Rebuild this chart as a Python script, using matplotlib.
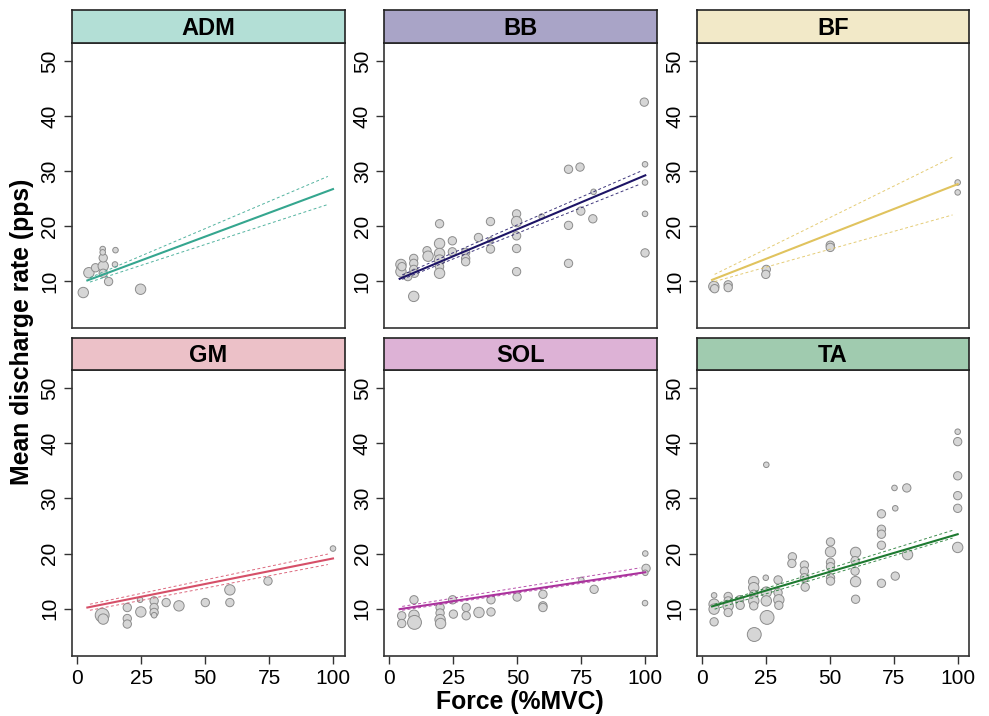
import matplotlib
matplotlib.use("Agg")
import matplotlib.pyplot as plt

plt.rcParams['font.family'] = ['Liberation Sans', 'DejaVu Sans']

# ---- data ----
muscles = ["ADM", "BB", "BF", "GM", "SOL", "TA"]

adm_force = [2.4, 4.6, 7.2, 10.2, 10.2, 10.2, 10, 10, 15, 14.8, 12.3, 24.8]
adm_rate = [7.9, 11.5, 12.4, 12.7, 11.4, 14.2, 15.8, 15.2, 15.6, 13.0, 9.9, 8.5]
adm_n = [3, 3, 2, 3, 2, 2, 1, 1, 1, 1, 2, 3]

bb_force = [4.5, 4.5, 4.9, 7.2, 9.5, 9.5, 9.5, 9.5, 9.8, 14.7, 15.1, 19.6, 19.6, 19.6,
            19.6, 19.6, 19.6, 24.6, 24.6, 29.8, 29.8, 29.8, 34.8, 39.5, 39.5, 39.5,
            49.7, 49.7, 49.7, 49.7, 49.7, 59.5, 70, 70, 70, 74.5, 74.8, 79.8, 79.5,
            99.6, 99.9, 99.9, 99.9, 99.9]
bb_rate = [13.0, 11.7, 12.6, 10.8, 7.2, 14.1, 13.2, 12.1, 11.4, 15.5, 14.5, 20.4, 16.8, 15.0,
           13.8, 12.6, 11.4, 17.3, 15.3, 15.2, 14.1, 13.5, 17.9, 20.8, 15.8, 17.4,
           22.2, 20.8, 18.2, 15.9, 11.7, 21.7, 30.3, 20.1, 13.2, 30.7, 22.7, 26.2, 21.3,
           42.5, 31.2, 27.9, 22.2, 15.1]
bb_n = [3, 3, 2, 2, 3, 2, 2, 2, 2, 2, 3, 2, 3, 3,
        3, 2, 3, 2, 2, 2, 2, 2, 2, 2, 2, 1,
        2, 3, 2, 2, 2, 1, 2, 2, 2, 2, 2, 1, 2,
        2, 1, 1, 1, 2]

bf_force = [4.7, 5.0, 10.3, 10.3, 25.2, 25.0, 50.2, 50.2, 100, 100]
bf_rate = [9.0, 8.6, 9.3, 8.8, 12.1, 11.2, 16.5, 16.1, 27.9, 26.1]
bf_n = [3, 2, 2, 2, 2, 2, 2, 2, 1, 1]

gm_force = [9.8, 10.2, 19.6, 19.6, 19.6, 24.6, 24.9, 30.1, 30.1, 30.1, 30.1, 34.8,
            39.8, 50.1, 59.7, 59.7, 74.6, 100]
gm_rate = [8.8, 8.1, 10.2, 8.2, 7.2, 11.6, 9.4, 11.4, 10.2, 9.3, 8.8, 11.1,
           10.5, 11.1, 13.4, 11.1, 15.0, 20.9]
gm_n = [4, 3, 2, 2, 2, 1, 3, 2, 2, 2, 1, 2,
        3, 2, 3, 2, 2, 1]

sol_force = [4.8, 4.8, 9.6, 9.6, 9.8, 19.8, 19.8, 19.8, 20.0, 24.7, 25.0, 30.0, 30.0,
             35.0, 39.7, 39.7, 49.9, 60.0, 60.0, 60.0, 75.0, 80.0, 100, 100.3, 100, 99.9]
sol_rate = [8.7, 7.3, 11.6, 8.8, 7.5, 10.2, 9.2, 8.0, 7.3, 11.6, 9.0, 10.2, 8.7,
            9.3, 11.6, 9.4, 12.1, 12.6, 10.5, 10.2, 15.2, 13.5, 20.0, 17.3, 16.5, 11.0]
sol_n = [2, 2, 2, 3, 4, 2, 2, 3, 3, 2, 2, 2, 2,
         3, 2, 2, 2, 2, 2, 2, 1, 2, 1, 2, 1, 1]

ta_force = [4.8, 4.8, 4.8, 4.8, 10.3, 10.3, 10.3, 10.3, 14.8, 15.0,
            20.3, 20.3, 20.3, 20.3, 20.3, 20.5, 25.0, 25.2, 25.2, 25.5, 25.2,
            29.8, 29.8, 30.1, 30.1, 35.4, 35.2, 40.1, 40.1, 40.1, 40.4,
            50.3, 50.3, 50.3, 50.3, 50.3, 50.3, 60.1, 59.9, 59.9, 60.1, 60.1,
            70.2, 70.2, 70.2, 70.2, 70.2, 75.3, 75.6, 75.6, 80.1, 80.4,
            100, 100, 100, 100, 100, 100]
ta_rate = [12.4, 10.8, 9.9, 7.6, 12.2, 11.4, 10.5, 9.3, 11.6, 10.6,
           14.9, 13.8, 12.6, 11.4, 10.5, 5.3, 15.6, 13.0, 11.4, 8.4, 36.1,
           15.2, 12.9, 11.6, 10.6, 19.4, 18.2, 17.9, 16.8, 15.6, 13.9,
           22.1, 20.3, 18.4, 17.6, 15.6, 15.0, 20.2, 18.7, 16.8, 14.9, 11.7,
           27.2, 24.4, 23.5, 21.5, 14.6, 31.9, 28.2, 15.9, 31.9, 19.8,
           42.1, 40.3, 34.1, 30.5, 28.2, 21.1]
ta_n = [1, 3, 3, 2, 2, 2, 3, 2, 2, 2,
        3, 3, 2, 3, 2, 4, 1, 3, 3, 4, 1,
        2, 2, 3, 2, 2, 2, 2, 2, 2, 2,
        2, 3, 2, 2, 2, 2, 3, 2, 2, 3, 2,
        2, 2, 2, 2, 2, 1, 1, 2, 2, 3,
        1, 2, 2, 2, 2, 3]

# regression line (x = 4 .. 100) and confidence bounds (x = 5 .. 98)
fit_x = [4, 100]
ci_x = [5, 98]
adm_fit, adm_lo, adm_hi = [10.1, 26.7], [9.8, 23.9], [10.6, 29.0]
bb_fit, bb_lo, bb_hi = [10.4, 29.2], [10.3, 27.6], [11.1, 29.9]
bf_fit, bf_lo, bf_hi = [10.2, 27.6], [9.9, 22.0], [11.2, 32.5]
gm_fit, gm_lo, gm_hi = [10.2, 19.1], [9.7, 18.0], [10.8, 19.9]
sol_fit, sol_lo, sol_hi = [9.9, 16.6], [9.7, 16.2], [10.4, 17.4]
ta_fit, ta_lo, ta_hi = [10.4, 23.5], [9.9, 22.8], [10.8, 24.2]

strip_colors = ["#b3dfd6", "#a9a4c7", "#f2e9c8", "#ecc1c8", "#ddb2d6", "#a0cbaf"]
line_colors = ["#35a68f", "#1d1466", "#e0c35e", "#d64f68", "#ab329d", "#1d7a30"]

forces = [adm_force, bb_force, bf_force, gm_force, sol_force, ta_force]
rates = [adm_rate, bb_rate, bf_rate, gm_rate, sol_rate, ta_rate]
ns = [adm_n, bb_n, bf_n, gm_n, sol_n, ta_n]
fits = [adm_fit, bb_fit, bf_fit, gm_fit, sol_fit, ta_fit]
los = [adm_lo, bb_lo, bf_lo, gm_lo, sol_lo, ta_lo]
his = [adm_hi, bb_hi, bf_hi, gm_hi, sol_hi, ta_hi]

# ---- layout (pixel based) ----
W, H = 989, 716
fig = plt.figure(figsize=(W / 100, H / 100), dpi=100)

col_left = [72, 384.3, 696.7]
panel_w = 272.5
rows = [(42.7, 328.3, 10.3), (370, 656, 338.3)]  # plot top, plot bottom, strip top

size_map = {1: 16, 2: 36, 3: 56, 4: 100}

for i, m in enumerate(muscles):
    r, c = divmod(i, 3)
    top, bot, stop = rows[r]
    left = col_left[c]
    ax = fig.add_axes([left / W, 1 - bot / H, panel_w / W, (bot - top) / H])
    sax = fig.add_axes([left / W, 1 - top / H, panel_w / W, (top - stop) / H])

    s = [size_map[k] for k in ns[i]]
    ax.scatter(forces[i], rates[i], s=s, c="#d6d6d6", edgecolors="#8c8c8c",
               linewidths=0.7, zorder=2)
    ax.plot(fit_x, fits[i], color=line_colors[i], lw=1.5, zorder=4)
    ax.plot(ci_x, los[i], color=line_colors[i], lw=0.7, alpha=0.85,
            ls=(0, (3, 2.5)), zorder=3)
    ax.plot(ci_x, his[i], color=line_colors[i], lw=0.7, alpha=0.85,
            ls=(0, (3, 2.5)), zorder=3)

    ax.set_xlim(-2, 104.5)
    ax.set_ylim(1.4, 53.3)
    ax.set_yticks([10, 20, 30, 40, 50])
    for t in ax.get_yticklabels():
        t.set_rotation(90)
        t.set_va("center")
    ax.tick_params(axis="y", labelsize=15, length=6, width=1, color="#333333", pad=3)
    if r == 1:
        ax.set_xticks([0, 25, 50, 75, 100])
        ax.tick_params(axis="x", labelsize=15, length=6, width=1, color="#333333", pad=3)
    else:
        ax.set_xticks([])
    for sp in ax.spines.values():
        sp.set_color("#333333")
        sp.set_linewidth(1.2)

    sax.set_facecolor(strip_colors[i])
    sax.set_xticks([])
    sax.set_yticks([])
    for sp in sax.spines.values():
        sp.set_color("#222222")
        sp.set_linewidth(1.2)
    sax.text(0.5, 0.45, m, transform=sax.transAxes, ha="center", va="center",
             fontsize=17, fontweight="bold")

fig.text(22 / W, 1 - 332 / H, "Mean discharge rate (pps)", rotation=90,
         ha="center", va="center", fontsize=17.8, fontweight="bold")
fig.text(520 / W, 1 - 702 / H, "Force (%MVC)", ha="center", va="center",
         fontsize=17.8, fontweight="bold")

fig.savefig("out.png", dpi=100)
